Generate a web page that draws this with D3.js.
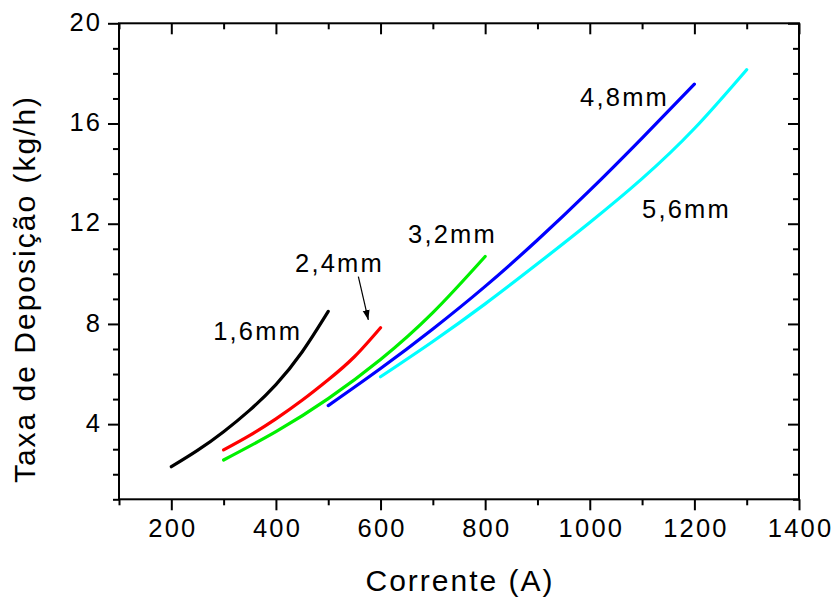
<!DOCTYPE html>
<html>
<head>
<meta charset="utf-8">
<script src="https://cdn.jsdelivr.net/npm/d3@7"></script>
<style>
  html, body { margin: 0; padding: 0; background: #fff; }
  svg { display: block; }
  text { font-family: "Liberation Sans", Arial, sans-serif; fill: #000; }
</style>
</head>
<body>
<svg id="chart" width="831" height="598"></svg>
<script>
// ---- data ----
const seriesNames = ["1,6mm", "2,4mm", "3,2mm", "4,8mm", "5,6mm"];
const seriesColors = ["#000000", "#ff0000", "#00f000", "#0000ff", "#00ffff"];

const x16 = [200, 250, 300, 350, 400, 450, 500];
const y16 = [2.30, 2.95, 3.70, 4.56, 5.58, 6.88, 8.50];

const x24 = [300, 350, 400, 450, 500, 550, 600];
const y24 = [2.97, 3.55, 4.21, 4.95, 5.77, 6.69, 7.85];

const x32 = [300, 400, 500, 600, 700, 800];
const y32 = [2.57, 3.70, 5.02, 6.58, 8.45, 10.69];

const x48 = [500, 600, 700, 800, 900, 1000, 1100, 1200];
const y48 = [4.74, 6.22, 7.80, 9.50, 11.35, 13.33, 15.42, 17.57];

const x56 = [600, 700, 800, 900, 1000, 1100, 1200, 1300];
const y56 = [5.89, 7.30, 8.80, 10.40, 12.05, 13.80, 15.80, 18.15];

const xMajorTicks = [200, 400, 600, 800, 1000, 1200, 1400];
const xMinorTicks = [100, 300, 500, 700, 900, 1100, 1300];
const yMajorTicks = [4, 8, 12, 16, 20];
const yMinorTicks = [1, 2, 3, 5, 6, 7, 9, 10, 11, 13, 14, 15, 17, 18, 19];

// annotation labels, anchored in data coordinates (left x, baseline y)
const labelX = [280, 436.5, 652.6, 981.5, 1100];
const labelY = [7.36, 10.09, 11.23, 16.70, 12.23];
// arrow for 2,4mm (data coordinates)
const arrowFrom = [557.6, 9.89];
const arrowTo = [576.7, 8.16];

const xTitle = "Corrente (A)";
const yTitle = "Taxa de Deposição (kg/h)";

// ---- layout ----
const svg = d3.select("#chart");
const L = 119, R = 799, T = 23.3, B = 499.3;
const x = d3.scaleLinear().domain([100, 1400]).range([L, R]);
const y = d3.scaleLinear().domain([1, 20]).range([B, T]);

const tickFont = 25.5, tickLS = 2.2;
const titleFont = 30, titleLS = 2;

function styleAxis(g) {
  g.select(".domain").remove();
  g.selectAll(".tick line").attr("stroke", "#000").attr("stroke-width", 2);
  g.selectAll(".tick text")
    .style("font-family", '"Liberation Sans", Arial, sans-serif')
    .style("font-size", tickFont + "px")
    .style("letter-spacing", tickLS + "px")
    .attr("fill", "#000");
}

// bottom axis (outward ticks, labels)
svg.append("g").attr("transform", `translate(0,${B})`)
  .call(d3.axisBottom(x).tickValues(xMajorTicks).tickSize(11).tickPadding(9).tickFormat(d3.format("d")))
  .call(styleAxis)
  .call(g => g.selectAll(".tick text").attr("dx", tickLS / 2));
svg.append("g").attr("transform", `translate(0,${B})`)
  .call(d3.axisBottom(x).tickValues(xMinorTicks).tickSize(6).tickFormat(""))
  .call(styleAxis);

// top axis (inward ticks)
svg.append("g").attr("transform", `translate(0,${T})`)
  .call(d3.axisBottom(x).tickValues(xMajorTicks).tickSize(11).tickFormat(""))
  .call(styleAxis);
svg.append("g").attr("transform", `translate(0,${T})`)
  .call(d3.axisBottom(x).tickValues(xMinorTicks).tickSize(6).tickFormat(""))
  .call(styleAxis);

// left axis (outward ticks, labels)
svg.append("g").attr("transform", `translate(${L},0)`)
  .call(d3.axisLeft(y).tickValues(yMajorTicks).tickSize(11).tickPadding(8).tickFormat(d3.format("d")))
  .call(styleAxis)
  .call(g => g.selectAll(".tick text").attr("dx", tickLS).attr("dy", "0.28em"));
svg.append("g").attr("transform", `translate(${L},0)`)
  .call(d3.axisLeft(y).tickValues(yMinorTicks).tickSize(6).tickFormat(""))
  .call(styleAxis);

// right axis (inward ticks)
svg.append("g").attr("transform", `translate(${R},0)`)
  .call(d3.axisLeft(y).tickValues(yMajorTicks).tickSize(11).tickFormat(""))
  .call(styleAxis);
svg.append("g").attr("transform", `translate(${R},0)`)
  .call(d3.axisLeft(y).tickValues(yMinorTicks).tickSize(6).tickFormat(""))
  .call(styleAxis);

// frame
svg.append("rect")
  .attr("x", L).attr("y", T).attr("width", R - L).attr("height", B - T)
  .attr("fill", "none").attr("stroke", "#000").attr("stroke-width", 2);

// curves
const allX = [x16, x24, x32, x48, x56];
const allY = [y16, y24, y32, y48, y56];
const line = d3.line().x(d => x(d[0])).y(d => y(d[1])).curve(d3.curveNatural);
allX.forEach((xs, i) => {
  const pts = xs.map((v, j) => [v, allY[i][j]]);
  svg.append("path")
    .attr("d", line(pts))
    .attr("fill", "none")
    .attr("stroke", seriesColors[i])
    .attr("stroke-width", 3.2)
    .attr("stroke-linecap", "round")
    .attr("stroke-linejoin", "round");
});

// annotation labels
seriesNames.forEach((name, i) => {
  svg.append("text")
    .attr("x", x(labelX[i]))
    .attr("y", y(labelY[i]))
    .style("font-size", tickFont + "px")
    .style("letter-spacing", tickLS + "px")
    .text(name);
});

// arrow
const defs = svg.append("defs");
defs.append("marker")
  .attr("id", "arrowhead")
  .attr("viewBox", "0 0 10 10")
  .attr("refX", 10).attr("refY", 5)
  .attr("markerWidth", 10).attr("markerHeight", 10)
  .attr("markerUnits", "userSpaceOnUse")
  .attr("orient", "auto")
  .append("path").attr("d", "M0,1.5 L10,5 L0,8.5 Z").attr("fill", "#000");
svg.append("line")
  .attr("x1", x(arrowFrom[0])).attr("y1", y(arrowFrom[1]))
  .attr("x2", x(arrowTo[0])).attr("y2", y(arrowTo[1]))
  .attr("stroke", "#000").attr("stroke-width", 1.2)
  .attr("marker-end", "url(#arrowhead)");

// axis titles
svg.append("text")
  .attr("x", (L + R) / 2 + titleLS / 2)
  .attr("y", 591)
  .attr("text-anchor", "middle")
  .style("font-size", titleFont + "px")
  .style("letter-spacing", titleLS + "px")
  .text(xTitle);

svg.append("text")
  .attr("transform", `translate(35,${288 + titleLS / 2}) rotate(-90)`)
  .attr("text-anchor", "middle")
  .style("font-size", titleFont + "px")
  .style("letter-spacing", titleLS + "px")
  .text(yTitle);
</script>
</body>
</html>
